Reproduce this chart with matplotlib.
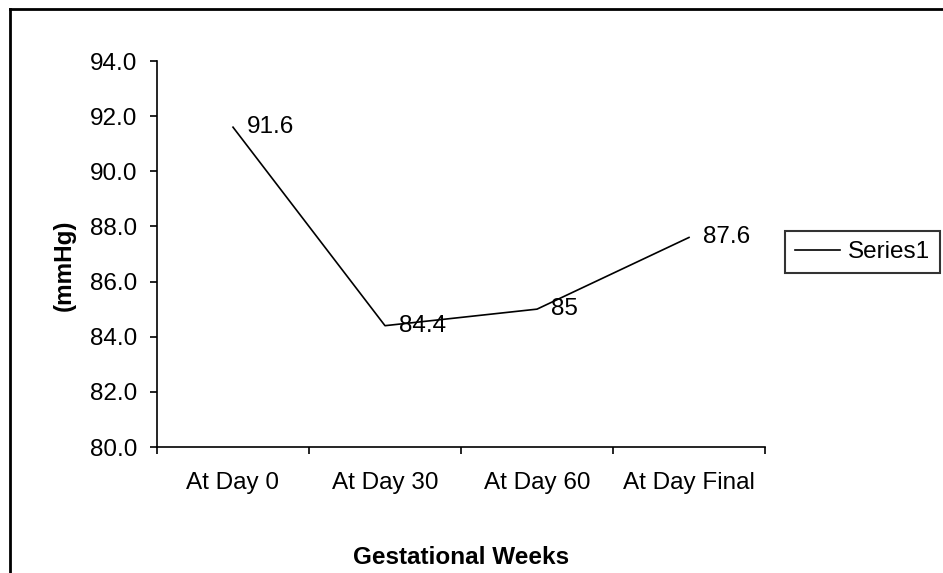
import numpy as np
import matplotlib
matplotlib.use('Agg')
import matplotlib.pyplot as plt
from matplotlib.lines import Line2D

plt.rcParams['font.family'] = ['Liberation Sans', 'DejaVu Sans']

# Data
categories = ['At Day 0', 'At Day 30', 'At Day 60', 'At Day Final']
values = [91.6, 84.4, 85.0, 87.6]
value_labels = ['91.6', '84.4', '85', '87.6']
y_ticks = [80, 82, 84, 86, 88, 90, 92, 94]

fs = 17.5

fig = plt.figure(figsize=(9.43, 5.73), dpi=100)
ax = fig.add_axes([157/943, 1-447/573, (765-157)/943, (447-61)/573])

x = np.arange(len(categories))
line, = ax.plot(x, values, color='black', lw=1.2, label='Series1')

for xi, v, lab in zip(x, values, value_labels):
    ax.annotate(lab, (xi, v), xytext=(10, 0), textcoords='offset points',
                ha='left', va='center', fontsize=fs)

ax.set_xlim(-0.5, len(categories) - 0.5)
ax.set_ylim(80, 94)
ax.set_yticks(y_ticks)
ax.set_yticklabels(['%.1f' % t for t in y_ticks], fontsize=fs)

# tick marks on category boundaries, labels at centres
ax.set_xticks(np.arange(-0.5, len(categories), 1.0))
ax.set_xticklabels([])
ax.set_xticks(x, minor=True)
ax.set_xticklabels(categories, minor=True, fontsize=fs)
ax.tick_params(axis='x', which='major', length=5, width=1.2, direction='out')
ax.tick_params(axis='x', which='minor', length=0, pad=18)
ax.tick_params(axis='y', length=5, width=1.2, direction='out', pad=9)

ax.spines['top'].set_visible(False)
ax.spines['right'].set_visible(False)
ax.spines['left'].set_linewidth(1.2)
ax.spines['bottom'].set_linewidth(1.2)

fig.text(461/943, 1-557/573, 'Gestational Weeks', ha='center', va='center',
         fontsize=fs, fontweight='bold')
fig.text(64/943, 1-265/573, '(mmHg)', ha='center', va='center',
         fontsize=fs, fontweight='bold', rotation=90)

leg = fig.legend(handles=[line], loc='center left',
                 bbox_to_anchor=(785/943, 1-252/573), fontsize=fs,
                 frameon=True, fancybox=False, handlelength=1.85,
                 handletextpad=0.33, borderpad=0.4, borderaxespad=0)
leg.get_frame().set_edgecolor('black')
leg.get_frame().set_linewidth(1.5)

# outer chart border (only top and left visible)
fig.add_artist(Line2D([10/943, 10/943], [0, 1-9/573], color='black', lw=2))
fig.add_artist(Line2D([10/943, 1], [1-9/573, 1-9/573], color='black', lw=2))

fig.savefig('out.png', dpi=100)
